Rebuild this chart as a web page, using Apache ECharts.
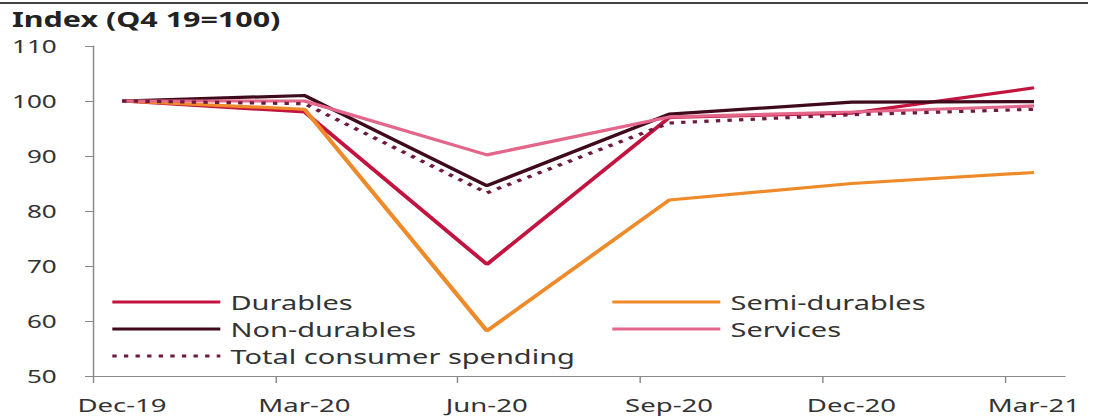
<!DOCTYPE html>
<html>
<head>
<meta charset="utf-8">
<script src="https://cdn.jsdelivr.net/npm/echarts@6/dist/echarts.min.js"></script>
<style>
html,body{margin:0;padding:0;background:#fff;overflow:hidden;}
#wrap{width:1099px;height:419px;overflow:hidden;}
#chart{height:419px;transform-origin:0 0;}
</style>
</head>
<body>
<div id="wrap"><div id="chart"></div></div>
<script>
const categories = ['Dec-19', 'Mar-20', 'Jun-20', 'Sep-20', 'Dec-20', 'Mar-21'];
const durables = [100, 98, 70.3, 97, 97.8, 102.4];
const semiDurables = [100, 98.5, 58.2, 82, 85, 87];
const nonDurables = [100, 101, 84.6, 97.6, 99.8, 99.9];
const services = [100, 100, 90.2, 97.1, 98, 99.1];
const totalSpending = [100, 99.5, 83.3, 96, 97.5, 98.5];
const yTicks = [50, 60, 70, 80, 90, 100, 110];

// the reference artwork is horizontally stretched; draw narrower and stretch
const S = 1.45;
const W = 1099 / S;
const el = document.getElementById('chart');
el.style.width = W + 'px';
el.style.transform = 'scaleX(' + S + ')';

// points sit slightly after each quarter tick
const POINT_SHIFT = 0.16;
const toPts = arr => arr.map((v, i) => [i + POINT_SHIFT, v]);

const font = 'Noto Sans';
const chart = echarts.init(el, null, { renderer: 'svg', width: W, height: 419 });

function line(name, data, color, type) {
  return {
    name, type: 'line', data: toPts(data), symbol: 'none',
    lineStyle: { color, width: 3.2, type: type || 'solid' },
    itemStyle: { color },
    z: type ? 5 : 3
  };
}

const legendText = { fontFamily: font, fontSize: 20, color: '#333', lineHeight: 20 };
const legendBase = {
  orient: 'vertical', top: 292, padding: 0, itemWidth: 108 / S, itemHeight: 14, itemGap: 7,
  itemStyle: { opacity: 0 }, lineStyle: { width: 3.2 }, textStyle: Object.assign({ padding: [0, 0, 0, 2] }, legendText)
};

chart.setOption({
  animation: false,
  graphic: [
    { type: 'line', shape: { x1: 0, y1: 3, x2: 1088 / S, y2: 3 }, style: { stroke: '#444', lineWidth: 2 } },
    { type: 'text', left: 12 / S, top: 8, style: { text: 'Index (Q4 19=100)', font: 'bold 21px "Noto Sans"', fill: '#222' } }
  ],
  grid: { left: 93 / S, right: 34 / S, top: 46, bottom: 43 },
  legend: [
    Object.assign({}, legendBase, { left: 110 / S, data: ['Durables', 'Non-durables', 'Total consumer spending'] }),
    Object.assign({}, legendBase, { left: 610 / S, data: ['Semi-durables', 'Services'] })
  ],
  xAxis: {
    type: 'value', min: 0, max: 5.33, interval: 1,
    axisLine: { show: true, lineStyle: { color: '#888', width: 1 } },
    axisTick: { show: true, length: 7, lineStyle: { color: '#888' } },
    splitLine: { show: false },
    axisLabel: {
      margin: 19, fontFamily: font, fontSize: 19, color: '#333',
      padding: [0, 0, 0, 2 * 29 / S],
      formatter: v => categories[Math.round(v)] || '',
      showMaxLabel: false
    }
  },
  yAxis: {
    type: 'value', min: yTicks[0], max: yTicks[yTicks.length - 1], interval: 10,
    axisLine: { show: true, lineStyle: { color: '#888', width: 1 } },
    axisTick: { show: true, length: 8 / S, lineStyle: { color: '#888' } },
    splitLine: { show: false },
    axisLabel: { margin: 25, fontFamily: font, fontSize: 18, color: '#333' }
  },
  series: [
    line('Durables', durables, '#c2143f'),
    line('Semi-durables', semiDurables, '#ee8a2a'),
    line('Non-durables', nonDurables, '#3f0a1c'),
    line('Services', services, '#e3678a'),
    line('Total consumer spending', totalSpending, '#6e1a3e', [3, 5])
  ]
});
</script>
</body>
</html>
